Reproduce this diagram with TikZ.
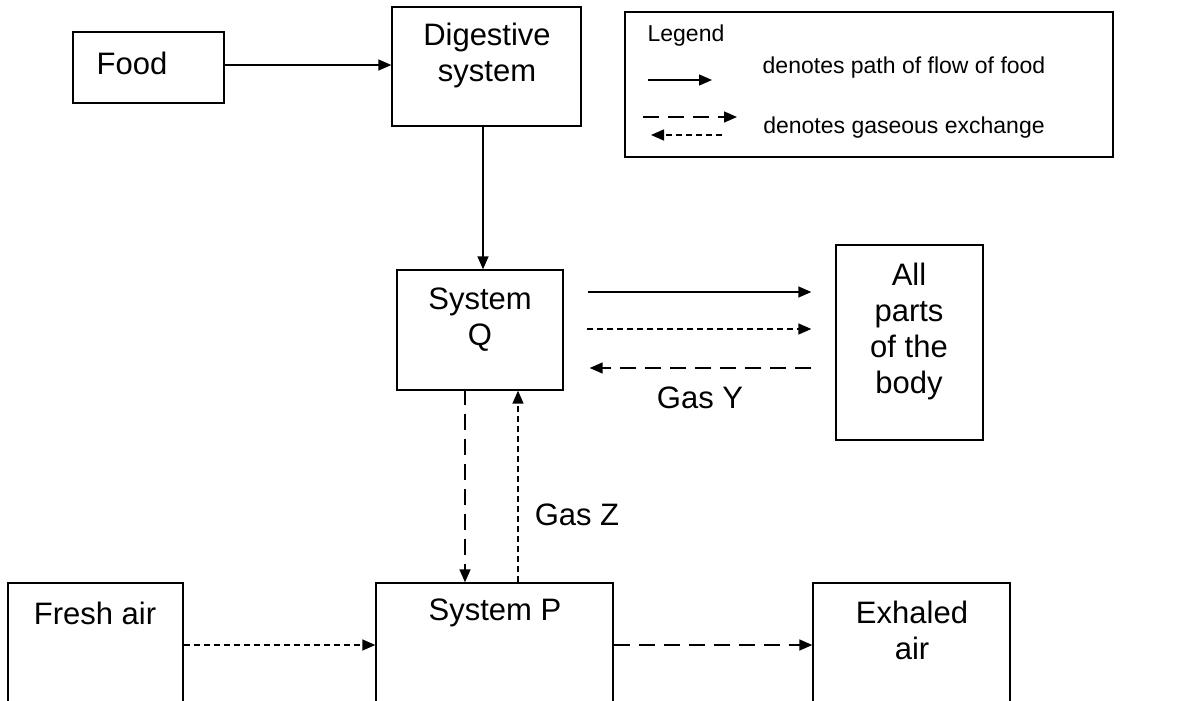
\documentclass[tikz,border=0pt]{standalone}
\usepackage{fontspec}
\setmainfont{Liberation Sans}
\usetikzlibrary{arrows.meta}
\tikzset{
  box/.style={draw, line width=1.4pt, inner sep=0pt},
  lbl/.style={inner sep=0pt, align=center, font=\fontsize{31}{36}\selectfont},
  small/.style={inner sep=0pt, align=center, font=\fontsize{23}{27}\selectfont},
  conn/.style={line width=1.5pt, -{Triangle[length=13pt,width=11pt]}},
  flow/.style={conn},
  longdash/.style={conn, dash pattern=on 16pt off 9pt},
  shortdash/.style={conn, dash pattern=on 6pt off 4pt},
}
\begin{document}
\begin{tikzpicture}[x=1pt,y=-1pt]
\useasboundingbox (0,0) rectangle (1200,701);
\clip (0,0) rectangle (1200,701);
\fill[white] (0,0) rectangle (1200,701);

% boxes
\node[box, minimum width=151, minimum height=71] (food) at (148.5,67.5) {};
\node[box, minimum width=189, minimum height=119] (dig) at (486.5,66.5) {};
\node[box, minimum width=488, minimum height=145] (legend) at (869,84.5) {};
\node[box, minimum width=166, minimum height=120] (sysq) at (480,330) {};
\node[box, minimum width=147, minimum height=195] (allp) at (909.5,342.5) {};
\node[box, minimum width=175, minimum height=137] (fresh) at (95.5,651.5) {};
\node[box, minimum width=237, minimum height=137] (sysp) at (494.5,651.5) {};
\node[box, minimum width=197, minimum height=137] (exh) at (911.5,651.5) {};

% texts
\node[lbl] (tfood) at (132,63) {Food};
\node[lbl] (tdig) at (487,55) {Digestive\\system};
\node[lbl] (tsysq) at (480,320) {System\\Q};
\node[lbl] (tallp) at (909,331) {All\\parts\\of the\\body};
\node[lbl] (tfresh) at (95,613) {Fresh air};
\node[lbl] (tsysp) at (495,613) {System P};
\node[lbl] (texh) at (912,630) {Exhaled\\air};
\node[lbl] (gasy) at (700,398) {Gas Y};
\node[lbl] (gasz) at (577,515) {Gas Z};

% legend
\node[small] (tleg) at (686,36) {Legend};
\node[small] (tleg1) at (904,68) {denotes path of flow of food};
\node[small] (tleg2) at (904,128) {denotes gaseous exchange};
\coordinate (l1a) at (648,80);  \coordinate (l1b) at (712,80);
\coordinate (l2a) at (643,117); \coordinate (l2b) at (737,117);
\coordinate (l3a) at (722,135); \coordinate (l3b) at (651,135);
\draw[flow] (l1a) -- (l1b);
\draw[longdash] (l2a) -- (l2b);
\draw[shortdash] (l3a) -- (l3b);

% connectors
\draw[flow] (food.east |- 0,65) -- (dig.west |- 0,65);
\draw[flow] (dig.south -| 483,0) -- (sysq.north -| 483,0);
\draw[flow] ([xshift=24pt]sysq.east |- 0,292) -- ([xshift=-24pt]allp.west |- 0,292);
\draw[shortdash] ([xshift=23pt]sysq.east |- 0,329) -- ([xshift=-24pt]allp.west |- 0,329);
\draw[longdash] ([xshift=-24pt]allp.west |- 0,368) -- ([xshift=26pt]sysq.east |- 0,368);
\draw[longdash] ([yshift=2pt]sysq.south -| 465,0) -- (sysp.north -| 465,0);
\draw[shortdash] (sysp.north -| 518,0) -- (sysq.south -| 518,0);
\draw[shortdash] (fresh.east |- 0,645) -- (sysp.west |- 0,645);
\draw[longdash] (sysp.east |- 0,645) -- (exh.west |- 0,645);
\end{tikzpicture}
\end{document}
